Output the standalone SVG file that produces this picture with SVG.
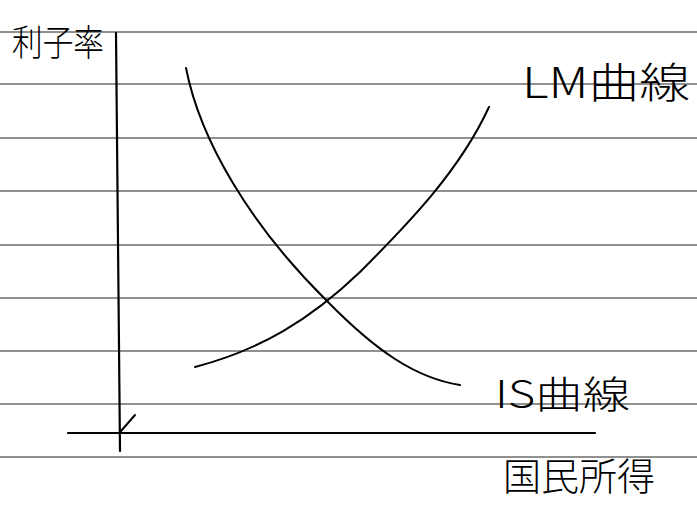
<svg xmlns="http://www.w3.org/2000/svg" width="697" height="505" viewBox="0 0 697 505">
<style>
.rule{stroke:#222;stroke-width:1.2;fill:none}
.axis{stroke:#000;stroke-width:2.2;fill:none;stroke-linecap:round}
.curve{stroke:#000;stroke-width:2;fill:none;stroke-linecap:round;stroke-linejoin:round}
.lbl{font-family:"Noto Sans CJK JP","Noto Sans",sans-serif;fill:#000;font-weight:300}
</style>
<rect width="697" height="505" fill="#fff"/>
<g id="paper">
<line class="rule" x1="0" y1="32" x2="697" y2="32"/>
<line class="rule" x1="0" y1="84" x2="697" y2="84"/>
<line class="rule" x1="0" y1="138" x2="697" y2="138"/>
<line class="rule" x1="0" y1="191" x2="697" y2="191"/>
<line class="rule" x1="0" y1="245" x2="697" y2="245"/>
<line class="rule" x1="0" y1="298" x2="697" y2="298"/>
<line class="rule" x1="0" y1="351" x2="697" y2="351"/>
<line class="rule" x1="0" y1="404" x2="697" y2="404"/>
<line class="rule" x1="0" y1="457" x2="697" y2="457"/>
</g>
<g id="connectors">
<line id="y-axis" class="axis" x1="116" y1="33" x2="120" y2="451"/>
<line id="x-axis" class="axis" x1="68" y1="433" x2="595" y2="433"/>
<line class="curve" x1="121" y1="431" x2="135" y2="415" stroke-width="1.2" stroke="#555"/>
</g>
<g id="is-curve">
<path class="curve" d="M186,68 C200,140 250,225 327,301 C375,350 415,378 460,385"/>
</g>
<g id="lm-curve">
<path class="curve" d="M195,367 C260,350 310,320 360,272 C410,222 460,170 489,107"/>
</g>
<g id="label-y"><text class="lbl" x="12" y="56" font-size="36" textLength="92" lengthAdjust="spacingAndGlyphs">利子率</text></g>
<g id="label-lm"><text class="lbl" x="522" y="98" font-size="42" textLength="168" lengthAdjust="spacingAndGlyphs">LM曲線</text></g>
<g id="label-is"><text class="lbl" x="495" y="408" font-size="38" textLength="135" lengthAdjust="spacingAndGlyphs">IS曲線</text></g>
<g id="label-x"><text class="lbl" x="503" y="490" font-size="38" textLength="152" lengthAdjust="spacingAndGlyphs">国民所得</text></g>
</svg>
